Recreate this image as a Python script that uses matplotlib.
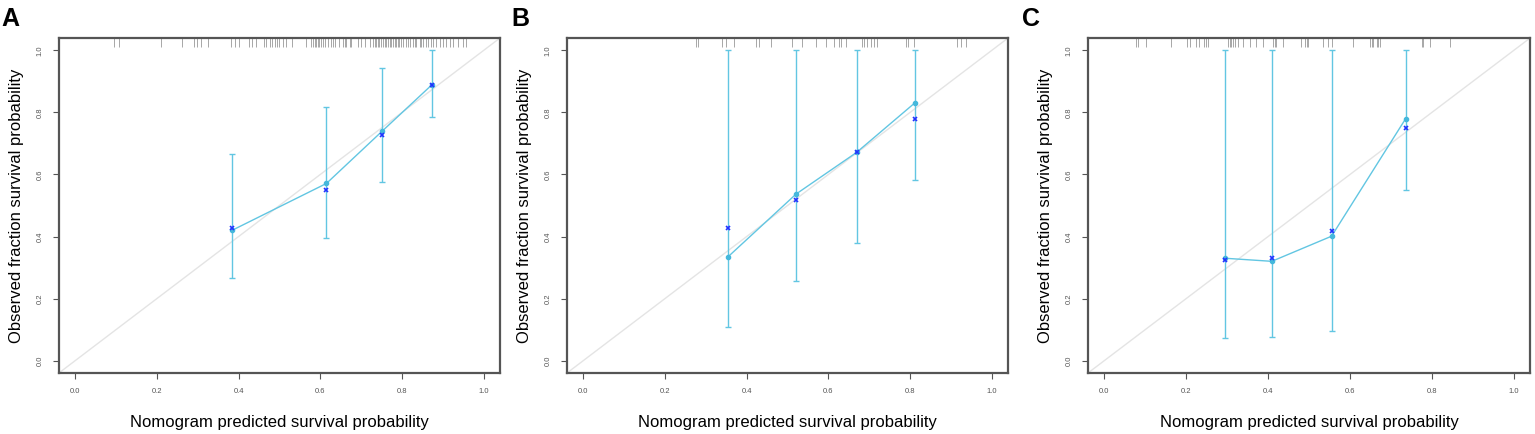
import matplotlib.pyplot as plt
import numpy as np

plt.rcParams['font.family'] = ['Liberation Sans', 'DejaVu Sans']

# panel A
pred_a = [0.384, 0.615, 0.751, 0.874]
obs_a = [0.420, 0.571, 0.739, 0.890]
kmx_a = [0.429, 0.551, 0.727, 0.890]
lo_a = [0.267, 0.396, 0.577, 0.785]
hi_a = [0.665, 0.819, 0.944, 1.000]
rug_a = [0.096, 0.107, 0.209, 0.262, 0.290, 0.298, 0.309, 0.325, 0.382, 0.390,
         0.401, 0.425, 0.433, 0.443, 0.462, 0.468, 0.476, 0.482, 0.488, 0.495,
         0.500, 0.508, 0.517, 0.531, 0.566, 0.578, 0.582, 0.586, 0.590, 0.594,
         0.598, 0.602, 0.606, 0.611, 0.619, 0.627, 0.631, 0.635, 0.647, 0.655,
         0.660, 0.664, 0.672, 0.676, 0.692, 0.700, 0.709, 0.721, 0.729, 0.733,
         0.737, 0.741, 0.745, 0.749, 0.753, 0.758, 0.762, 0.766, 0.770, 0.774,
         0.778, 0.782, 0.786, 0.790, 0.794, 0.798, 0.802, 0.811, 0.815, 0.819,
         0.827, 0.831, 0.835, 0.843, 0.847, 0.851, 0.860, 0.864, 0.872, 0.876,
         0.884, 0.892, 0.900, 0.909, 0.917, 0.925, 0.937, 0.949, 0.958]

# panel B
pred_b = [0.353, 0.521, 0.669, 0.811]
obs_b = [0.333, 0.537, 0.671, 0.830]
kmx_b = [0.426, 0.517, 0.671, 0.780]
lo_b = [0.108, 0.258, 0.380, 0.583]
hi_b = [1.0, 1.0, 1.0, 1.0]
rug_b = [0.275, 0.281, 0.340, 0.349, 0.369, 0.424, 0.430, 0.460, 0.512, 0.536,
         0.569, 0.593, 0.614, 0.626, 0.630, 0.642, 0.683, 0.687, 0.695, 0.704,
         0.712, 0.718, 0.789, 0.794, 0.810, 0.916, 0.924, 0.936]

# panel C
pred_c = [0.294, 0.409, 0.555, 0.736]
obs_c = [0.330, 0.320, 0.401, 0.780]
kmx_c = [0.323, 0.330, 0.417, 0.749]
lo_c = [0.074, 0.075, 0.096, 0.549]
hi_c = [1.0, 1.0, 1.0, 1.0]
rug_c = [0.077, 0.081, 0.101, 0.163, 0.203, 0.209, 0.224, 0.232, 0.244, 0.248,
         0.252, 0.302, 0.306, 0.310, 0.314, 0.318, 0.326, 0.338, 0.355, 0.371,
         0.387, 0.412, 0.416, 0.420, 0.436, 0.481, 0.489, 0.494, 0.498, 0.534,
         0.547, 0.555, 0.608, 0.649, 0.653, 0.657, 0.665, 0.669, 0.673, 0.775,
         0.779, 0.796, 0.845]

panels = [("A", pred_a, obs_a, kmx_a, lo_a, hi_a, rug_a),
          ("B", pred_b, obs_b, kmx_b, lo_b, hi_b, rug_b),
          ("C", pred_c, obs_c, kmx_c, lo_c, hi_c, rug_c)]

lefts = [0.0384, 0.3694, 0.7088]
widths = [0.2873, 0.2873, 0.288]
letter_x = [0.001, 0.333, 0.666]

fig = plt.figure(figsize=(15.35, 4.34), dpi=100)
cyan = "#62c6e2"

for i, (lab, pred, obs, kmx, lo, hi, rug) in enumerate(panels):
    ax = fig.add_axes([lefts[i], 0.1406, widths[i], 0.7718])
    ax.set_xlim(-0.04, 1.04)
    ax.set_ylim(-0.04, 1.04)
    ax.axline((0, 0), slope=1, color="#e4e4e4", lw=1.0, zorder=1)
    pred = np.array(pred)
    obs = np.array(obs)
    ax.errorbar(pred, obs, yerr=[obs - np.array(lo), np.array(hi) - obs],
                fmt="none", ecolor=cyan, elinewidth=1.0, capsize=2.3,
                capthick=1.0, zorder=2)
    ax.plot(pred, obs, color=cyan, lw=1.0, zorder=3)
    ax.plot(pred, obs, "o", color="#45b8dc", ms=3.0, zorder=4)
    ax.plot(pred, kmx, "x", color="#2233ff", ms=3.0, mew=1.2, zorder=5)
    ax.vlines(rug, 1.011, 1.04, color="#999999", lw=0.6, zorder=2)
    ticks = [0.0, 0.2, 0.4, 0.6, 0.8, 1.0]
    ax.set_xticks(ticks)
    ax.set_yticks(ticks)
    ax.set_xticklabels(["%.1f" % t for t in ticks], fontsize=5.5, color="#555555")
    ax.set_yticklabels(["%.1f" % t for t in ticks], fontsize=5.5, color="#555555",
                       rotation=90, va="center")
    ax.tick_params(length=4, width=0.8, color="#555555", pad=7)
    for s in ax.spines.values():
        s.set_color("#555555")
        s.set_linewidth(1.6)
    ax.set_xlabel("Nomogram predicted survival probability", fontsize=12, labelpad=14)
    ax.set_ylabel("Observed fraction survival probability", fontsize=12, labelpad=9)
    fig.text(letter_x[i], 0.985, lab, fontsize=18, fontweight="bold", va="top", ha="left")

fig.savefig("out.png", dpi=100)
